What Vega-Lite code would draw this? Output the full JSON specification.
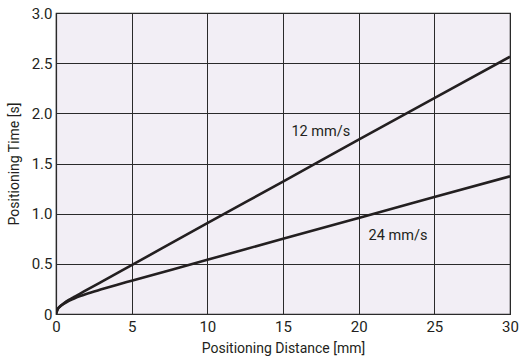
{
  "$schema": "https://vega.github.io/schema/vega-lite/v6.json",
  "autosize": "none",
  "width": 454,
  "height": 301,
  "padding": {"left": 56, "top": 13, "right": 9, "bottom": 47},
  "background": "white",
  "config": {
    "font": "Roboto",
    "view": {"fill": "#f2eef5", "stroke": "#2a2a2a", "strokeWidth": 1.2}
  },
  "datasets": {
    "curves": [
      {"distance": 0, "time": 0, "speed": "12 mm/s"},
      {"distance": 0.1, "time": 0.045, "speed": "12 mm/s"},
      {"distance": 0.25, "time": 0.074, "speed": "12 mm/s"},
      {"distance": 0.5, "time": 0.104, "speed": "12 mm/s"},
      {"distance": 0.85, "time": 0.14, "speed": "12 mm/s"},
      {"distance": 1.2, "time": 0.17, "speed": "12 mm/s"},
      {"distance": 1.6, "time": 0.204, "speed": "12 mm/s"},
      {"distance": 2, "time": 0.237, "speed": "12 mm/s"},
      {"distance": 3, "time": 0.32, "speed": "12 mm/s"},
      {"distance": 5, "time": 0.487, "speed": "12 mm/s"},
      {"distance": 10, "time": 0.905, "speed": "12 mm/s"},
      {"distance": 15, "time": 1.32, "speed": "12 mm/s"},
      {"distance": 20, "time": 1.737, "speed": "12 mm/s"},
      {"distance": 25, "time": 2.152, "speed": "12 mm/s"},
      {"distance": 30, "time": 2.565, "speed": "12 mm/s"},
      {"distance": 0, "time": 0, "speed": "24 mm/s"},
      {"distance": 0.1, "time": 0.045, "speed": "24 mm/s"},
      {"distance": 0.25, "time": 0.072, "speed": "24 mm/s"},
      {"distance": 0.5, "time": 0.1, "speed": "24 mm/s"},
      {"distance": 0.85, "time": 0.132, "speed": "24 mm/s"},
      {"distance": 1.2, "time": 0.155, "speed": "24 mm/s"},
      {"distance": 1.6, "time": 0.179, "speed": "24 mm/s"},
      {"distance": 2, "time": 0.2, "speed": "24 mm/s"},
      {"distance": 3, "time": 0.246, "speed": "24 mm/s"},
      {"distance": 4, "time": 0.29, "speed": "24 mm/s"},
      {"distance": 5, "time": 0.332, "speed": "24 mm/s"},
      {"distance": 10, "time": 0.54, "speed": "24 mm/s"},
      {"distance": 15, "time": 0.75, "speed": "24 mm/s"},
      {"distance": 20, "time": 0.958, "speed": "24 mm/s"},
      {"distance": 25, "time": 1.165, "speed": "24 mm/s"},
      {"distance": 30, "time": 1.372, "speed": "24 mm/s"}
    ],
    "labels": [
      {"distance": 17.5, "time": 1.815, "label": "12 mm/s"},
      {"distance": 22.6, "time": 0.78, "label": "24 mm/s"}
    ]
  },
  "layer": [
    {
      "data": {"name": "curves"},
      "mark": {"type": "line", "color": "#231f20", "strokeWidth": 2.6, "interpolate": "monotone", "clip": true},
      "encoding": {
        "x": {
          "field": "distance", "type": "quantitative",
          "scale": {"domain": [0, 30], "nice": false, "zero": false},
          "axis": {
            "title": "Positioning Distance [mm]",
            "values": [0, 5, 10, 15, 20, 25, 30],
            "grid": true, "gridColor": "#2a2a2a", "gridWidth": 1, "gridOpacity": 1,
            "ticks": false, "domain": true, "domainColor": "#2a2a2a", "domainWidth": 1.2,
            "labelFontSize": 15, "labelColor": "#231f20", "labelPadding": 5,
            "labelFlush": false, "labelOverlap": false,
            "titleFontSize": 14, "titleFontWeight": "normal", "titleColor": "#231f20", "titlePadding": 7
          }
        },
        "y": {
          "field": "time", "type": "quantitative",
          "scale": {"domain": [0, 3], "nice": false, "zero": false},
          "axis": {
            "title": "Positioning Time [s]",
            "values": [0, 0.5, 1, 1.5, 2, 2.5, 3],
            "labelExpr": "datum.value == 0 ? '0' : format(datum.value, '.1f')",
            "grid": true, "gridColor": "#2a2a2a", "gridWidth": 1, "gridOpacity": 1,
            "ticks": false, "domain": true, "domainColor": "#2a2a2a", "domainWidth": 1.2,
            "labelFontSize": 15, "labelColor": "#231f20", "labelPadding": 4,
            "labelFlush": false, "labelOverlap": false,
            "titleFontSize": 14, "titleFontWeight": "normal", "titleColor": "#231f20", "titlePadding": 10
          }
        },
        "detail": {"field": "speed", "type": "nominal"}
      }
    },
    {
      "data": {"name": "labels"},
      "mark": {"type": "text", "fontSize": 14.5, "color": "#231f20", "align": "center", "baseline": "middle"},
      "encoding": {
        "x": {"field": "distance", "type": "quantitative"},
        "y": {"field": "time", "type": "quantitative"},
        "text": {"field": "label", "type": "nominal"}
      }
    }
  ]
}
